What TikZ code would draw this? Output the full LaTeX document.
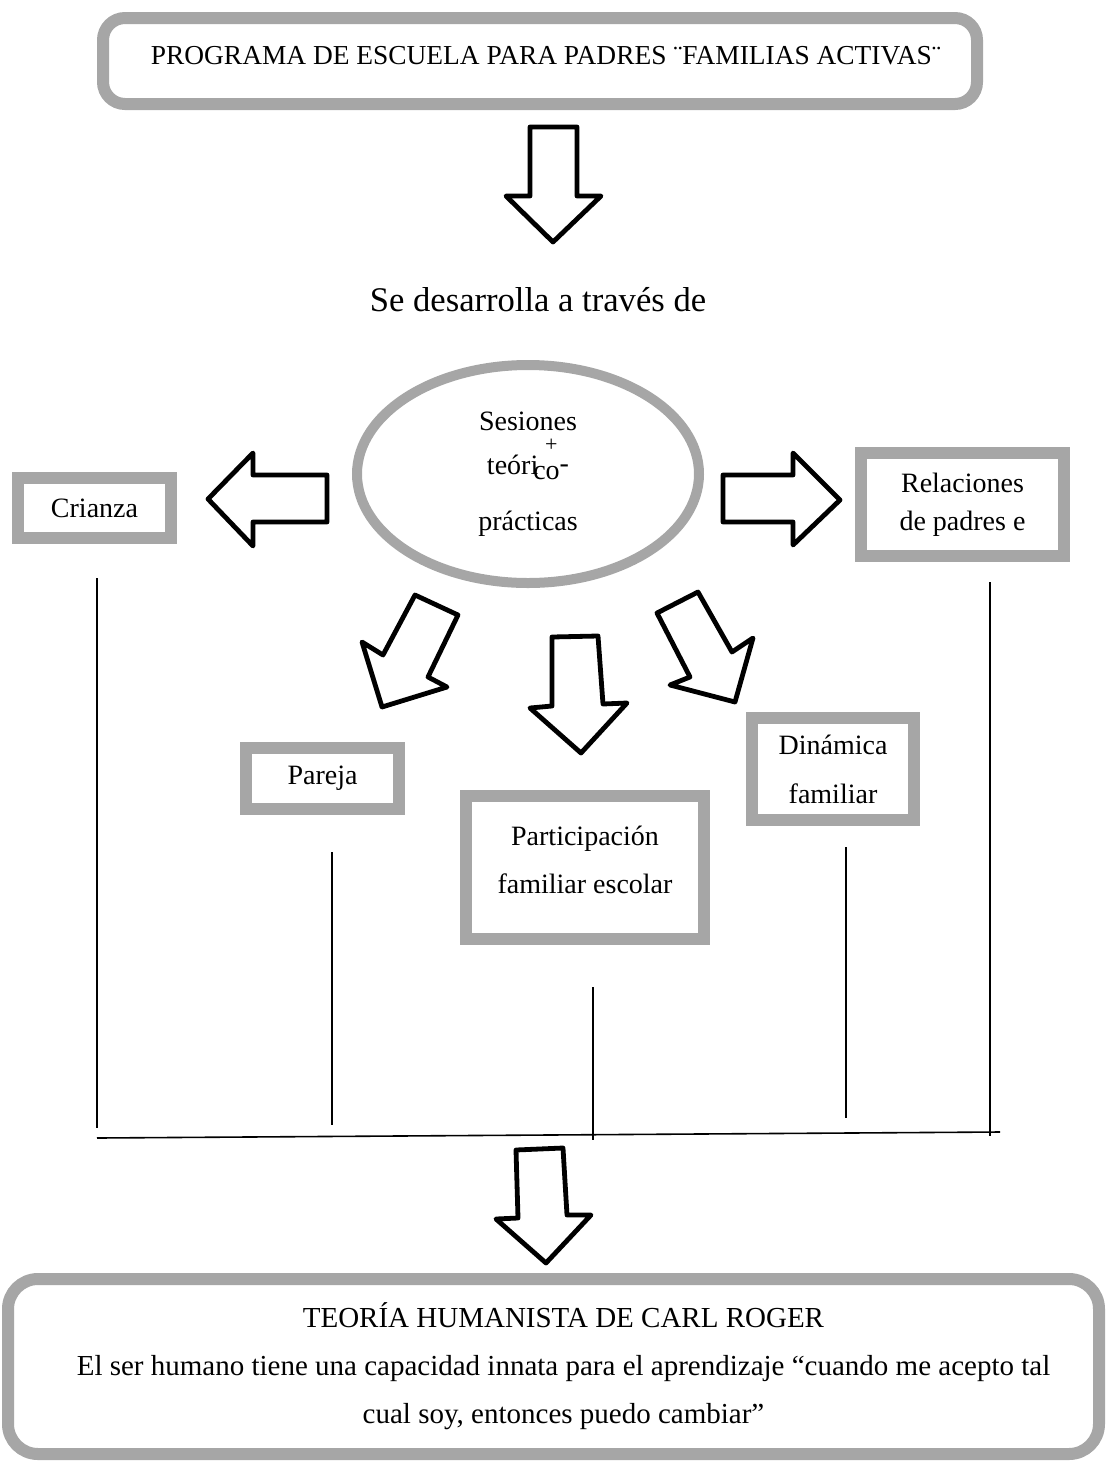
\documentclass[tikz,border=0pt]{standalone}
\usepackage{fontspec}
\setmainfont{Liberation Serif}
\usetikzlibrary{shapes.geometric}

\definecolor{boxgray}{HTML}{A6A6A6}

\tikzset{
  graybox/.style={draw=boxgray, line width=6pt, fill=white, inner sep=0pt, align=center, font=\fontsize{14}{19}\selectfont},
  bigarrow/.style={draw=black, line width=2.4pt, line join=round, fill=white},
  thinline/.style={line width=0.8pt},
}

\begin{document}
\begin{tikzpicture}[x=0.5pt,y=-0.5pt]
    \useasboundingbox (0,0) rectangle (1107,1463);

    \node[graybox, rounded corners=11pt, minimum width=437pt, minimum height=43pt, text depth=6pt, font=\fontsize{13.7}{16}\selectfont] (programa) at (540,61) {\hspace{6pt}PROGRAMA DE ESCUELA PARA PADRES ¨FAMILIAS ACTIVAS¨};
    \draw[bigarrow](530,127)--(577,127)--(577,196)--(601,196)--(553,242)--(506,196)--(530,196)--cycle;

    \node[font=\fontsize{17.3}{20}\selectfont] (desarrolla) at (538,300) {Se desarrolla a través de};

    \node[draw=boxgray, line width=5pt, ellipse, minimum width=171pt, minimum height=109pt, inner sep=0pt, align=center, font=\fontsize{14}{22}\selectfont] (sesiones) at (528,474)
        {Sesiones\\ teóri\kern-2.5pt\raisebox{-2.5pt}{\rlap{\hspace{9pt}\makebox[0pt]{\raisebox{14pt}{\fontsize{11}{11}\selectfont+}}}co}\raisebox{1pt}{-}\\[6pt] prácticas};

    \draw[bigarrow](327,475)--(327,522)--(253,522)--(253,546)--(208,499)--(253,453)--(253,475)--cycle;
    \draw[bigarrow](723,475)--(793,475)--(793,453)--(840,500)--(793,545)--(793,522)--(723,522)--cycle;

    \node[graybox, minimum width=76.5pt, minimum height=30pt] (crianza) at (94.5,508) {Crianza};
    \node[graybox, minimum width=101.5pt, minimum height=51.5pt] (relaciones) at (962.5,504.5) {Relaciones\\de padres e};

    \draw[bigarrow](415,595)--(458,615)--(428,677)--(447,687)--(382,707)--(362,642)--(383,655)--cycle;
    \draw[bigarrow](552,637)--(598,636)--(603,704)--(627,703)--(581,753)--(530,708)--(552,706)--cycle;
    \draw[bigarrow](657,613)--(698,592)--(732,652)--(753,638)--(735,702)--(670,685)--(690,677)--cycle;

    \node[graybox, minimum width=76.5pt, minimum height=30.5pt] (pareja) at (322.5,778.5) {Pareja};
    \node[graybox, minimum width=119pt, minimum height=71.5pt, text depth=8pt, font=\fontsize{14}{24}\selectfont] (participacion) at (585,867.5) {Participación\\familiar escolar};
    \node[graybox, minimum width=81pt, minimum height=51pt, font=\fontsize{14}{24.5}\selectfont] (dinamica) at (833,769) {Dinámica\\familiar};

    % lineas verticales y base
    \coordinate (crianza-top) at (97,578);   \coordinate (crianza-end) at (97,1128);
    \coordinate (pareja-top) at (332,852);   \coordinate (pareja-end) at (332,1125);
    \coordinate (partic-top) at (593,987);   \coordinate (partic-end) at (593,1140);
    \coordinate (dinam-top) at (846,847);    \coordinate (dinam-end) at (846,1118);
    \coordinate (relac-top) at (990,582);    \coordinate (relac-end) at (990,1136);
    \coordinate (base-left) at (97,1138);    \coordinate (base-right) at (1000,1132);
    \draw[thinline](crianza-top)--(crianza-end);
    \draw[thinline](pareja-top)--(pareja-end);
    \draw[thinline](partic-top)--(partic-end);
    \draw[thinline](dinam-top)--(dinam-end);
    \draw[thinline](relac-top)--(relac-end);
    \draw[thinline](base-left)--(base-right);

    \draw[bigarrow](516,1150)--(563,1148)--(567,1215)--(591,1215)--(546,1263)--(496,1219)--(518,1218)--cycle;

    \node[graybox, rounded corners=15pt, minimum width=545.5pt, minimum height=87.5pt, font=\fontsize{14.5}{24}\selectfont] (teoria) at (553.5,1366.5)
        {\hspace{10pt}TEORÍA HUMANISTA DE CARL ROGER\\ \hspace{10pt}El ser humano tiene una capacidad innata para el aprendizaje “cuando me acepto tal\\ \hspace{10pt}cual soy, entonces puedo cambiar”};
\end{tikzpicture}
\end{document}
